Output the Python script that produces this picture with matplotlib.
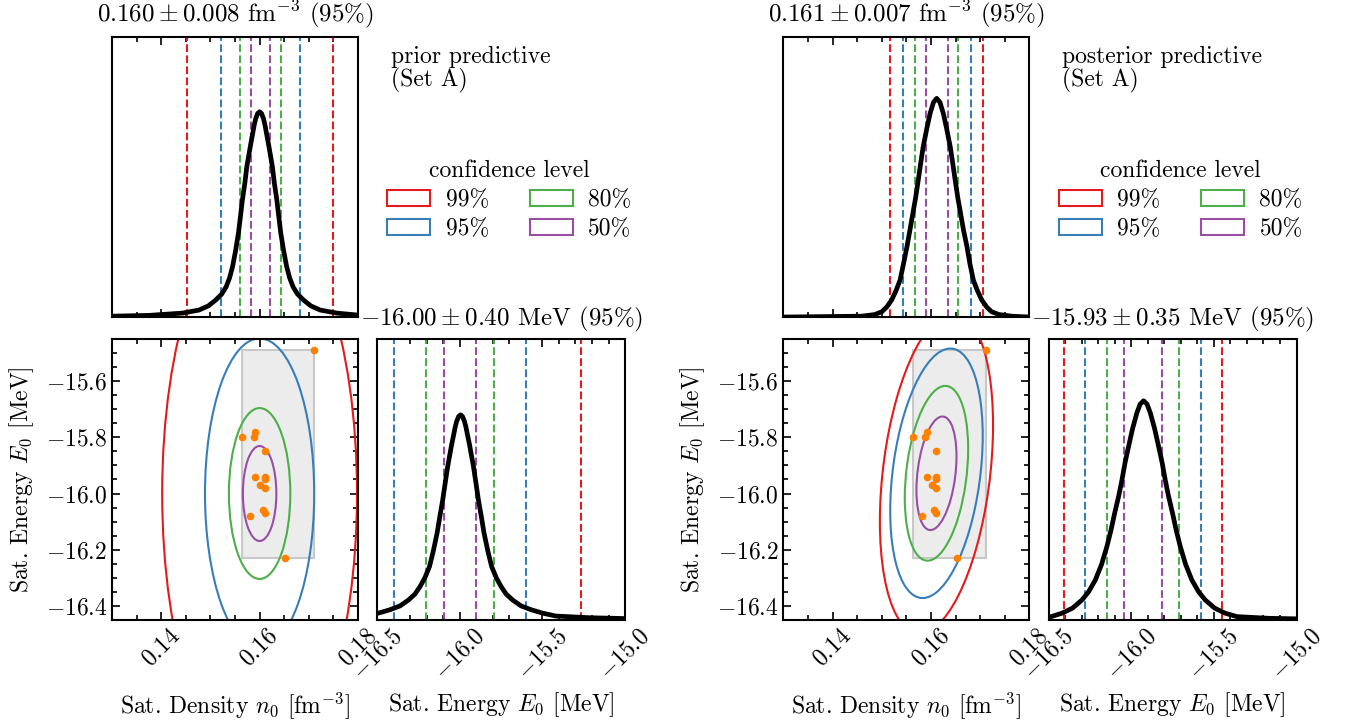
import numpy as np
import matplotlib
matplotlib.use('Agg')
import matplotlib.pyplot as plt
from matplotlib.patches import Ellipse, Rectangle, Patch
from matplotlib.transforms import Affine2D
from matplotlib.ticker import MultipleLocator

plt.rcParams['font.family'] = 'serif'
plt.rcParams['font.serif'] = ['cmr10']
plt.rcParams['mathtext.fontset'] = 'cm'
plt.rcParams['axes.formatter.use_mathtext'] = True
plt.rcParams['font.size'] = 17

# confidence levels, outermost first
levels = ['99%', '95%', '80%', '50%']
colors = ['#e41a1c', '#377eb8', '#4daf4a', '#984ea3']

# empirical saturation points
sat_n0 = [0.1711, 0.1564, 0.1591, 0.1588, 0.1611, 0.1591, 0.1611,
          0.1611, 0.1601, 0.1611, 0.1606, 0.1611, 0.1581, 0.1652]
sat_E0 = [-15.49, -15.80, -15.78, -15.80, -15.85, -15.94, -15.94,
          -15.95, -15.97, -15.98, -16.06, -16.07, -16.08, -16.23]

# ---- prior predictive ----
prior_n0_x = [0.1300, 0.1376, 0.1443, 0.1477, 0.1496, 0.1511, 0.1523, 0.1532,
              0.1539, 0.1545, 0.1551, 0.1557, 0.1561, 0.1565, 0.1570, 0.1574,
              0.1578, 0.1582, 0.1586, 0.1589, 0.1592, 0.1596, 0.1600, 0.1604,
              0.1608, 0.1611, 0.1614, 0.1618, 0.1622, 0.1626, 0.1630, 0.1635,
              0.1639, 0.1643, 0.1649, 0.1655, 0.1661, 0.1668, 0.1677, 0.1689,
              0.1704, 0.1723, 0.1757, 0.1800]
prior_n0_pdf = [0.003, 0.006, 0.014, 0.025, 0.040, 0.061, 0.082, 0.108,
                0.140, 0.180, 0.235, 0.300, 0.358, 0.418, 0.478, 0.537,
                0.578, 0.618, 0.656, 0.685, 0.708, 0.727, 0.733, 0.727,
                0.708, 0.685, 0.656, 0.618, 0.578, 0.537, 0.478, 0.418,
                0.358, 0.300, 0.235, 0.180, 0.140, 0.108, 0.082, 0.061,
                0.040, 0.025, 0.014, 0.007]
prior_n0_lo = [0.1453, 0.1521, 0.1560, 0.1582]
prior_n0_hi = [0.1750, 0.1682, 0.1643, 0.1621]

prior_E0_x = [-16.500, -16.424, -16.361, -16.310, -16.271, -16.241, -16.211,
              -16.183, -16.160, -16.137, -16.121, -16.103, -16.088, -16.073,
              -16.061, -16.049, -16.035, -16.028, -16.019, -16.007, -15.995,
              -15.983, -15.971, -15.962, -15.955, -15.941, -15.929, -15.917,
              -15.902, -15.887, -15.869, -15.853, -15.830, -15.807, -15.779,
              -15.749, -15.719, -15.680, -15.629, -15.566, -15.497, -15.419,
              -15.215, -15.000]
prior_E0_pdf = [0.023, 0.036, 0.050, 0.071, 0.092, 0.118, 0.150, 0.190,
                0.245, 0.309, 0.366, 0.427, 0.487, 0.546, 0.585, 0.624,
                0.664, 0.685, 0.706, 0.724, 0.730, 0.724, 0.706, 0.685,
                0.664, 0.624, 0.585, 0.546, 0.487, 0.427, 0.366, 0.309,
                0.245, 0.190, 0.150, 0.118, 0.092, 0.071, 0.050, 0.036,
                0.024, 0.014, 0.008, 0.005]
prior_E0_lo = [-16.73, -16.396, -16.202, -16.094]
prior_E0_hi = [-15.268, -15.602, -15.794, -15.902]

prior_center = (0.160, -16.0)
prior_sx = [0.0198, 0.0111, 0.00624, 0.0034]
prior_sy = [1.0, 0.552, 0.304, 0.169]
prior_rho = [0.0, 0.0, 0.0, 0.0]

# ---- posterior predictive ----
post_n0_x = [0.1300, 0.1459, 0.1486, 0.1500, 0.1510, 0.1520, 0.1529, 0.1537,
             0.1544, 0.1551, 0.1557, 0.1563, 0.1569, 0.1574, 0.1579, 0.1584,
             0.1591, 0.1598, 0.1605, 0.16115, 0.1618, 0.1625, 0.1632, 0.1639,
             0.1644, 0.1649, 0.1654, 0.1660, 0.1666, 0.1673, 0.1679, 0.1686,
             0.1694, 0.1703, 0.1713, 0.1723, 0.1738, 0.1764, 0.1800]
post_n0_pdf = [0.0, 0.003, 0.009, 0.019, 0.036, 0.061, 0.095, 0.132,
               0.190, 0.251, 0.310, 0.370, 0.430, 0.489, 0.550, 0.608,
               0.670, 0.727, 0.767, 0.781, 0.767, 0.727, 0.670, 0.608,
               0.550, 0.489, 0.430, 0.370, 0.310, 0.251, 0.190, 0.132,
               0.095, 0.061, 0.036, 0.019, 0.009, 0.003, 0.0]
post_n0_lo = [0.1517, 0.1542, 0.1567, 0.1589]
post_n0_hi = [0.1706, 0.1681, 0.1655, 0.1634]

post_E0_x = [-16.500, -16.419, -16.355, -16.298, -16.258, -16.217, -16.179,
             -16.147, -16.122, -16.100, -16.076, -16.056, -16.037, -16.016,
             -15.992, -15.966, -15.946, -15.925, -15.904, -15.884, -15.858,
             -15.834, -15.813, -15.794, -15.774, -15.750, -15.728, -15.703,
             -15.671, -15.633, -15.592, -15.552, -15.495, -15.431, -15.361,
             -15.169, -15.000]
post_E0_pdf = [0.009, 0.024, 0.042, 0.071, 0.100, 0.142, 0.198, 0.261,
               0.320, 0.380, 0.440, 0.498, 0.560, 0.617, 0.680, 0.736,
               0.768, 0.780, 0.768, 0.736, 0.680, 0.617, 0.560, 0.498,
               0.440, 0.380, 0.320, 0.261, 0.198, 0.142, 0.100, 0.071,
               0.042, 0.024, 0.012, 0.006, 0.004]
post_E0_lo = [-16.405, -16.278, -16.147, -16.042]
post_E0_hi = [-15.452, -15.579, -15.709, -15.815]

post_center = (0.1611, -15.928)
post_sx = [0.0115, 0.0094, 0.00644, 0.00407]
post_sy = [0.57, 0.444, 0.311, 0.202]
post_rho = [0.30, 0.30, 0.28, 0.30]


def style(ax, left=False):
    for s in ax.spines.values():
        s.set_linewidth(1.5)
    ax.tick_params(which='both', direction='in', top=True, bottom=True,
                   left=left, right=left, width=1.2)
    ax.tick_params(which='major', length=6)
    ax.tick_params(which='minor', length=3.3)


def corner(dx, n0_x, n0_pdf, n0_lo, n0_hi, n0_title,
           E0_x, E0_pdf, E0_lo, E0_hi, E0_title,
           center, sx, sy, rho, label):
    ax_n = fig.add_axes([0.0829 + dx, 0.5615, 0.1821, 0.3873])
    ax_2d = fig.add_axes([0.0829 + dx, 0.1425, 0.1821, 0.3887])
    ax_E = fig.add_axes([0.2791 + dx, 0.1425, 0.1836, 0.3887])

    # density marginal
    for lo, hi, c in zip(n0_lo, n0_hi, colors):
        ax_n.axvline(lo, color=c, ls='--', lw=1.5)
        ax_n.axvline(hi, color=c, ls='--', lw=1.5)
    ax_n.plot(n0_x, n0_pdf, color='k', lw=3.4, solid_joinstyle='round')
    ax_n.set_xlim(0.13, 0.18)
    ax_n.set_ylim(0, 1)
    ax_n.set_yticks([])
    ax_n.xaxis.set_major_locator(MultipleLocator(0.02))
    ax_n.xaxis.set_minor_locator(MultipleLocator(0.005))
    ax_n.tick_params(labelbottom=False)
    style(ax_n)
    ax_n.set_title(n0_title, pad=11, fontsize=18)

    # joint
    ax_2d.add_patch(Rectangle((min(sat_n0), min(sat_E0)),
                              max(sat_n0) - min(sat_n0),
                              max(sat_E0) - min(sat_E0),
                              facecolor='#ececec', edgecolor='#c8c8c8',
                              lw=1.5, zorder=1))
    for a, b, r, c in zip(sx, sy, rho, colors):
        m = np.array([[a, 0.0, center[0]],
                      [r * b, b * np.sqrt(1 - r ** 2), center[1]],
                      [0.0, 0.0, 1.0]])
        e = Ellipse((0, 0), 2, 2, fill=False, edgecolor=c, lw=1.5, zorder=2)
        e.set_transform(Affine2D(m) + ax_2d.transData)
        ax_2d.add_patch(e)
    ax_2d.scatter(sat_n0, sat_E0, s=30, color='#ff7f00', zorder=3,
                  linewidths=0)
    ax_2d.set_xlim(0.13, 0.18)
    ax_2d.set_ylim(-16.45, -15.45)
    ax_2d.xaxis.set_major_locator(MultipleLocator(0.02))
    ax_2d.xaxis.set_minor_locator(MultipleLocator(0.005))
    ax_2d.yaxis.set_major_locator(MultipleLocator(0.2))
    ax_2d.yaxis.set_minor_locator(MultipleLocator(0.05))
    style(ax_2d, left=True)
    plt.setp(ax_2d.get_xticklabels(), rotation=45)
    ax_2d.set_xlabel(r'Sat. Density $n_0$ [fm$^{-3}$]')
    ax_2d.xaxis.set_label_coords(0.5, -0.25)
    ax_2d.set_ylabel(r'Sat. Energy $E_0$ [MeV]')
    ax_2d.yaxis.set_label_coords(-0.31, 0.5)

    # energy marginal
    for lo, hi, c in zip(E0_lo, E0_hi, colors):
        ax_E.axvline(lo, color=c, ls='--', lw=1.5)
        ax_E.axvline(hi, color=c, ls='--', lw=1.5)
    ax_E.plot(E0_x, E0_pdf, color='k', lw=3.4, solid_joinstyle='round')
    ax_E.set_xlim(-16.5, -15.0)
    ax_E.set_ylim(0, 1)
    ax_E.set_yticks([])
    ax_E.xaxis.set_major_locator(MultipleLocator(0.5))
    ax_E.xaxis.set_minor_locator(MultipleLocator(0.1))
    style(ax_E)
    plt.setp(ax_E.get_xticklabels(), rotation=45)
    ax_E.set_title(E0_title, pad=10, fontsize=18)
    ax_E.set_xlabel(r'Sat. Energy $E_0$ [MeV]')
    ax_E.xaxis.set_label_coords(0.5, -0.25)

    fig.text(0.2894 + dx, 0.936, label, va='top', ha='left',
             linespacing=0.95)
    handles = [Patch(facecolor='none', edgecolor=c, lw=1.5) for c in colors]
    fig.legend(handles, levels, ncol=2, title='confidence level',
               frameon=False, loc='upper center',
               bbox_to_anchor=(0.377 + dx, 0.808), fontsize=17,
               title_fontsize=17, handlelength=1.82, handleheight=0.68,
               handletextpad=0.64, columnspacing=1.74, labelspacing=0.3)


fig = plt.figure(figsize=(13.51, 7.23), dpi=100)

corner(0.0, prior_n0_x, prior_n0_pdf, prior_n0_lo, prior_n0_hi,
       r'$0.160 \pm 0.008$ fm$^{-3}$ (95%)',
       prior_E0_x, prior_E0_pdf, prior_E0_lo, prior_E0_hi,
       r'$-16.00 \pm 0.40$ MeV (95%)',
       prior_center, prior_sx, prior_sy, prior_rho,
       'prior predictive\n(Set A)')

corner(0.497, post_n0_x, post_n0_pdf, post_n0_lo, post_n0_hi,
       r'$0.161 \pm 0.007$ fm$^{-3}$ (95%)',
       post_E0_x, post_E0_pdf, post_E0_lo, post_E0_hi,
       r'$-15.93 \pm 0.35$ MeV (95%)',
       post_center, post_sx, post_sy, post_rho,
       'posterior predictive\n(Set A)')

plt.savefig('out.png', dpi=100)
